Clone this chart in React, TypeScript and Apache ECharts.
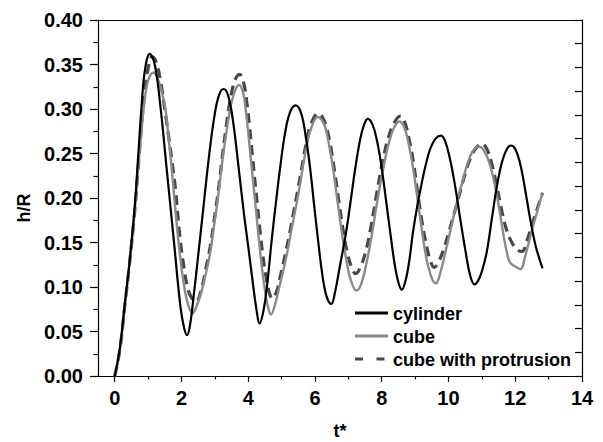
import React, { useEffect, useRef } from "react";
import * as echarts from "echarts";

// cylinder
const cylT = [0, 0.15, 0.3, 0.45, 0.6, 0.7, 0.8, 0.9, 1.05, 1.2, 1.37, 1.57, 1.77, 1.97, 2.08, 2.17, 2.26, 2.36, 2.5, 2.66, 2.82, 2.98, 3.12, 3.26, 3.4, 3.55, 3.71, 3.87, 4.02, 4.14, 4.25, 4.34, 4.45, 4.56, 4.71, 4.84, 4.96, 5.1, 5.25, 5.42, 5.58, 5.72, 5.86, 5.98, 6.08, 6.18, 6.28, 6.38, 6.49, 6.6, 6.72, 6.84, 6.96, 7.1, 7.21, 7.35, 7.46, 7.58, 7.72, 7.86, 7.99, 8.12, 8.26, 8.39, 8.5, 8.6, 8.7, 8.82, 8.93, 9.06, 9.19, 9.31, 9.46, 9.62, 9.77, 9.9, 10.05, 10.2, 10.35, 10.52, 10.65, 10.78, 10.9, 11.02, 11.15, 11.3, 11.45, 11.6, 11.75, 11.88, 12.0, 12.14, 12.28, 12.45, 12.62, 12.82];
const cylH = [0, 0.03, 0.08, 0.13, 0.19, 0.245, 0.3, 0.342, 0.362, 0.35, 0.303, 0.228, 0.153, 0.078, 0.054, 0.046, 0.058, 0.088, 0.135, 0.19, 0.245, 0.29, 0.315, 0.3225, 0.315, 0.285, 0.235, 0.183, 0.14, 0.104, 0.074, 0.059, 0.072, 0.1, 0.155, 0.198, 0.235, 0.272, 0.296, 0.304, 0.296, 0.27, 0.232, 0.19, 0.157, 0.125, 0.1, 0.086, 0.081, 0.094, 0.118, 0.142, 0.168, 0.205, 0.234, 0.265, 0.281, 0.289, 0.283, 0.264, 0.236, 0.2, 0.16, 0.125, 0.105, 0.097, 0.105, 0.128, 0.16, 0.19, 0.215, 0.236, 0.256, 0.267, 0.27, 0.264, 0.243, 0.213, 0.177, 0.138, 0.113, 0.103, 0.108, 0.12, 0.14, 0.177, 0.213, 0.24, 0.255, 0.259, 0.255, 0.24, 0.213, 0.176, 0.145, 0.121];

// cube
const cubeT = [0, 0.15, 0.3, 0.45, 0.6, 0.7, 0.8, 0.9, 1.0, 1.17, 1.3, 1.42, 1.52, 1.62, 1.72, 1.81, 1.9, 2.0, 2.1, 2.2, 2.33, 2.45, 2.6, 2.73, 2.86, 2.98, 3.11, 3.22, 3.34, 3.46, 3.6, 3.73, 3.85, 3.93, 4.01, 4.11, 4.21, 4.31, 4.41, 4.5, 4.59, 4.68, 4.8, 4.95, 5.06, 5.16, 5.3, 5.46, 5.56, 5.66, 5.76, 5.9, 6.08, 6.2, 6.31, 6.42, 6.53, 6.67, 6.81, 6.94, 7.08, 7.24, 7.38, 7.55, 7.71, 7.88, 8.06, 8.22, 8.38, 8.53, 8.68, 8.8, 8.93, 9.07, 9.21, 9.35, 9.5, 9.62, 9.75, 9.9, 10.05, 10.22, 10.38, 10.55, 10.72, 10.9, 11.05, 11.22, 11.4, 11.52, 11.65, 11.76, 11.85, 12.0, 12.15, 12.3, 12.5, 12.66, 12.82];
const cubeH = [0, 0.028, 0.078, 0.128, 0.185, 0.232, 0.275, 0.31, 0.332, 0.341, 0.333, 0.318, 0.3, 0.266, 0.228, 0.19, 0.155, 0.122, 0.097, 0.08, 0.0705, 0.078, 0.095, 0.115, 0.138, 0.17, 0.205, 0.24, 0.272, 0.3, 0.32, 0.327, 0.318, 0.298, 0.27, 0.232, 0.195, 0.157, 0.122, 0.097, 0.078, 0.069, 0.08, 0.103, 0.12, 0.137, 0.165, 0.196, 0.217, 0.24, 0.26, 0.28, 0.291, 0.288, 0.279, 0.26, 0.236, 0.198, 0.16, 0.13, 0.107, 0.096, 0.103, 0.128, 0.16, 0.2, 0.236, 0.263, 0.28, 0.286, 0.279, 0.262, 0.236, 0.2, 0.162, 0.13, 0.11, 0.104, 0.115, 0.138, 0.162, 0.19, 0.213, 0.236, 0.252, 0.258, 0.254, 0.24, 0.213, 0.188, 0.158, 0.137, 0.127, 0.123, 0.12, 0.135, 0.164, 0.185, 0.206];

// cube with protrusion
const protT = [0, 0.15, 0.3, 0.45, 0.6, 0.7, 0.8, 0.9, 1.0, 1.12, 1.25, 1.38, 1.5, 1.62, 1.72, 1.82, 1.93, 2.05, 2.18, 2.3, 2.44, 2.58, 2.73, 2.86, 2.98, 3.11, 3.22, 3.34, 3.46, 3.6, 3.74, 3.86, 3.95, 4.04, 4.14, 4.24, 4.34, 4.44, 4.54, 4.63, 4.72, 4.85, 4.98, 5.1, 5.24, 5.38, 5.5, 5.62, 5.74, 5.88, 6.1, 6.22, 6.34, 6.46, 6.58, 6.72, 6.86, 6.98, 7.1, 7.22, 7.36, 7.52, 7.68, 7.85, 8.02, 8.2, 8.38, 8.56, 8.7, 8.82, 8.95, 9.08, 9.22, 9.35, 9.47, 9.57, 9.7, 9.85, 10.0, 10.15, 10.3, 10.48, 10.65, 10.82, 11.0, 11.15, 11.3, 11.45, 11.6, 11.75, 11.9, 12.05, 12.2, 12.35, 12.5, 12.66, 12.82];
const protH = [0, 0.028, 0.078, 0.128, 0.185, 0.232, 0.28, 0.32, 0.345, 0.359, 0.352, 0.33, 0.3, 0.268, 0.24, 0.21, 0.165, 0.128, 0.1, 0.088, 0.084, 0.095, 0.12, 0.145, 0.175, 0.21, 0.245, 0.28, 0.31, 0.332, 0.339, 0.33, 0.31, 0.28, 0.242, 0.205, 0.168, 0.135, 0.11, 0.094, 0.087, 0.095, 0.115, 0.135, 0.16, 0.188, 0.212, 0.237, 0.262, 0.283, 0.295, 0.291, 0.28, 0.26, 0.232, 0.195, 0.16, 0.137, 0.122, 0.115, 0.122, 0.14, 0.168, 0.205, 0.24, 0.268, 0.285, 0.292, 0.284, 0.266, 0.24, 0.205, 0.17, 0.145, 0.128, 0.122, 0.128, 0.142, 0.16, 0.18, 0.2, 0.225, 0.244, 0.256, 0.261, 0.255, 0.238, 0.213, 0.185, 0.163, 0.15, 0.142, 0.14, 0.152, 0.17, 0.188, 0.206];

const xTickValues = [0, 2, 4, 6, 8, 10, 12, 14];
const seriesNames = ["cylinder", "cube", "cube with protrusion"];
const seriesColors = ["#000000", "#8a8a8a", "#474747"];

const zip = (t: number[], h: number[]) => t.map((v, i) => [v, h[i]]);

export default function App() {
  const ref = useRef<HTMLDivElement>(null);

  useEffect(() => {
    if (!ref.current) return;
    const chart = echarts.init(ref.current, null, { renderer: "svg" });
    const font = "'Liberation Sans', Arial, sans-serif";
    const txt = { fontFamily: font, fontWeight: "bold" as const, fontSize: 20, color: "#000" };
    const nameTxt = { fontFamily: font, fontWeight: "bold" as const, fontSize: 18, color: "#000" };
    const axisLineStyle = { color: "#000", width: 1.2 };

    // legend drawn with graphic elements (line sample + label per row)
    const legendX = 355;
    const legendRowsY = [313, 336, 359];
    const legendDash = [null, null, [8, 13.5]];
    const legendGraphics: any[] = [];
    seriesNames.forEach((name, i) => {
      legendGraphics.push({
        type: "line",
        shape: { x1: legendX, y1: legendRowsY[i], x2: legendX + 33, y2: legendRowsY[i] },
        style: { stroke: seriesColors[i], lineWidth: 3, lineDash: legendDash[i] || undefined },
        silent: true,
      });
      legendGraphics.push({
        type: "text",
        x: legendX + 38,
        y: legendRowsY[i] + 1,
        style: {
          text: name,
          font: `bold 18px ${font}`,
          fill: "#000",
          verticalAlign: "middle",
          align: "left",
        },
        silent: true,
      });
    });

    chart.setOption({
      animation: false,
      backgroundColor: "#fff",
      grid: { left: 98, right: 21, top: 20, bottom: 66, outerBoundsMode: "none", containLabel: false },
      graphic: legendGraphics,
      xAxis: [
        {
          type: "value",
          min: -0.5,
          max: 14,
          splitNumber: 7,
          position: "bottom",
          name: "t*",
          nameLocation: "middle",
          nameGap: 46,
          nameTextStyle: { ...nameTxt },
          axisLine: { show: true, onZero: false, lineStyle: axisLineStyle },
          axisTick: { show: true, inside: false, length: 6, customValues: xTickValues, lineStyle: axisLineStyle },
          minorTick: { show: true, splitNumber: 2, length: 3.5, lineStyle: axisLineStyle },
          axisLabel: { ...txt, margin: 12, customValues: xTickValues, formatter: (v: number) => String(v) },
          splitLine: { show: false },
        },
        {
          type: "value",
          min: -0.5,
          max: 14,
          position: "top",
          axisLine: { show: true, onZero: false, lineStyle: axisLineStyle },
          axisTick: { show: false },
          axisLabel: { show: false },
          splitLine: { show: false },
        },
      ],
      yAxis: [
        {
          type: "value",
          min: 0,
          max: 0.4,
          interval: 0.05,
          position: "left",
          name: "h/R",
          nameLocation: "middle",
          nameGap: 64,
          nameTextStyle: { ...nameTxt, padding: [0, 20, 0, 0] },
          axisLine: { show: true, onZero: false, lineStyle: axisLineStyle },
          axisTick: { show: true, inside: false, length: 8, lineStyle: axisLineStyle },
          minorTick: { show: true, splitNumber: 2, length: 4.5, lineStyle: axisLineStyle },
          axisLabel: { ...txt, margin: 15, formatter: (v: number) => v.toFixed(2) },
          splitLine: { show: false },
        },
        {
          type: "value",
          min: 0,
          max: 15,
          interval: 1,
          position: "right",
          axisLine: { show: true, onZero: false, lineStyle: axisLineStyle },
          axisTick: { show: true, inside: true, length: 7, lineStyle: axisLineStyle },
          axisLabel: { show: false },
          splitLine: { show: false },
        },
      ],
      series: [
        {
          name: seriesNames[2],
          type: "line",
          data: zip(protT, protH),
          showSymbol: false,
          symbol: "none",
          smooth: 0.4,
          color: seriesColors[2],
          lineStyle: { color: seriesColors[2], width: 3.2, type: [10, 6] },
        },
        {
          name: seriesNames[1],
          type: "line",
          data: zip(cubeT, cubeH),
          showSymbol: false,
          symbol: "none",
          smooth: 0.4,
          color: seriesColors[1],
          lineStyle: { color: seriesColors[1], width: 2.4 },
        },
        {
          name: seriesNames[0],
          type: "line",
          data: zip(cylT, cylH),
          showSymbol: false,
          symbol: "none",
          smooth: 0.4,
          color: seriesColors[0],
          lineStyle: { color: seriesColors[0], width: 2.2 },
        },
      ],
    });

    return () => chart.dispose();
  }, []);

  return (
    <div
      ref={ref}
      style={{ position: "absolute", left: 0, top: 0, width: 603, height: 442, background: "#fff" }}
    />
  );
}
